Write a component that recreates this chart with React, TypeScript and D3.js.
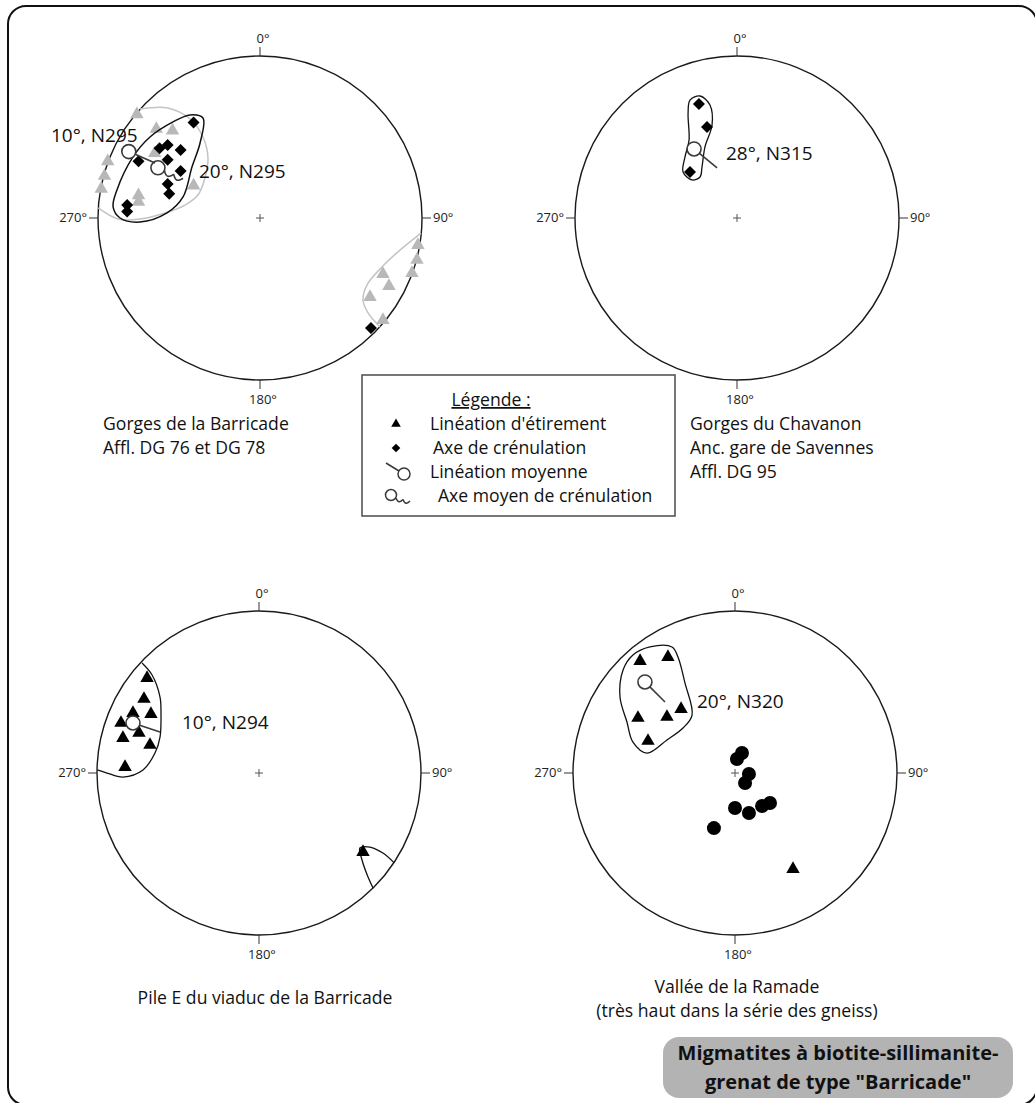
import React from "react";
import * as d3 from "d3";

type P = [number, number];

// ---------- DATA (normalised equal-area coordinates: x = east, y = north, unit primitive) ----------
const tickLabels = ["0°", "90°", "180°", "270°"];

// Net 1 : Gorges de la Barricade
const n1Stretch: P[] = [
  [-0.76, 0.64], [-0.64, 0.55], [-0.54, 0.54], [-0.94, 0.35], [-0.96, 0.26], [-0.98, 0.18],
  [-0.75, 0.14], [-0.75, 0.10], [-0.41, 0.20], [-0.65, 0.40],
  [0.975, -0.167], [0.969, -0.259], [0.938, -0.34], [0.759, -0.346], [0.796, -0.42], [0.679, -0.488], [0.759, -0.63],
];
const n1Crenul: P[] = [
  [-0.41, 0.59], [-0.62, 0.43], [-0.57, 0.45], [-0.49, 0.42], [-0.75, 0.35], [-0.57, 0.36],
  [-0.49, 0.29], [-0.57, 0.21], [-0.56, 0.15], [-0.82, 0.08], [-0.82, 0.04], [0.685, -0.679],
];
const n1BlackZone: P[] = [
  [-0.352, 0.617], [-0.37, 0.463], [-0.42, 0.315], [-0.475, 0.13], [-0.574, 0.031], [-0.741, -0.025],
  [-0.864, 0.0], [-0.907, 0.068], [-0.883, 0.173], [-0.784, 0.377], [-0.679, 0.5], [-0.537, 0.593], [-0.432, 0.636],
];
const n1GreyZoneNW: P[] = [
  [-0.741, 0.673], [-0.568, 0.679], [-0.432, 0.611], [-0.352, 0.5], [-0.321, 0.37], [-0.34, 0.247],
  [-0.383, 0.142], [-0.463, 0.08], [-0.586, 0.031], [-0.741, -0.006], [-0.877, -0.006], [-0.998, 0.062],
];
const n1GreyZoneSE: P[] = [
  [0.994, -0.093], [0.864, -0.198], [0.753, -0.302], [0.66, -0.414], [0.636, -0.506], [0.667, -0.586], [0.74, -0.672],
];
const n1MeanLin: P[] = [[-0.81, 0.41], [-0.648, 0.34]]; // pole, tail end
const n1MeanCren: P[] = [[-0.63, 0.31], [-0.475, 0.245]];
const n1Labels = ["10°, N295", "20°, N295"];
const n1Caption = ["Gorges de la Barricade", "Affl. DG 76 et DG 78"];

// Net 2 : Gorges du Chavanon
const n2Crenul: P[] = [[-0.235, 0.704], [-0.185, 0.562], [-0.29, 0.284]];
const n2Zone: P[] = [
  [-0.29, 0.728], [-0.228, 0.753], [-0.167, 0.698], [-0.154, 0.574], [-0.198, 0.438], [-0.216, 0.315],
  [-0.228, 0.253], [-0.278, 0.235], [-0.333, 0.284], [-0.321, 0.377], [-0.296, 0.481], [-0.302, 0.648],
];
const n2MeanLin: P[] = [[-0.265, 0.426], [-0.123, 0.309]];
const n2Labels = ["28°, N315"];
const n2Caption = ["Gorges du Chavanon", "Anc. gare de Savennes", "Affl. DG 95"];

// Net 3 : Pile E du viaduc de la Barricade
const n3Stretch: P[] = [
  [-0.691, 0.586], [-0.71, 0.457], [-0.778, 0.37], [-0.667, 0.364], [-0.852, 0.309], [-0.741, 0.247],
  [-0.84, 0.216], [-0.673, 0.173], [-0.827, 0.037], [0.642, -0.488],
];
const n3ZoneW: P[] = [
  [-0.722, 0.679], [-0.66, 0.605], [-0.611, 0.469], [-0.605, 0.37], [-0.611, 0.222], [-0.642, 0.123],
  [-0.716, 0.019], [-0.84, -0.025], [-0.938, 0.0], [-0.998, 0.019],
];
const n3ZoneSE: P[] = [
  [0.833, -0.553], [0.765, -0.494], [0.685, -0.457], [0.623, -0.463], [0.636, -0.537], [0.673, -0.642], [0.704, -0.71],
];
const n3MeanLin: P[] = [[-0.778, 0.309], [-0.611, 0.253]];
const n3Labels = ["10°, N294"];
const n3Caption = ["Pile E du viaduc de la Barricade"];

// Net 4 : Vallée de la Ramade
const n4Stretch: P[] = [
  [-0.586, 0.691], [-0.414, 0.716], [-0.599, 0.34], [-0.42, 0.346], [-0.333, 0.395], [-0.537, 0.198], [0.358, -0.593],
];
const n4Poles: P[] = [
  [0.043, 0.123], [0.012, 0.086], [0.086, -0.006], [0.062, -0.062], [0.0, -0.216],
  [0.086, -0.247], [0.167, -0.204], [0.216, -0.185], [-0.13, -0.34],
];
const n4Zone: P[] = [
  [-0.63, 0.728], [-0.525, 0.778], [-0.389, 0.778], [-0.352, 0.716], [-0.309, 0.556], [-0.265, 0.358],
  [-0.321, 0.278], [-0.42, 0.204], [-0.543, 0.123], [-0.63, 0.191], [-0.667, 0.315], [-0.71, 0.469], [-0.691, 0.636],
];
const n4MeanLin: P[] = [[-0.556, 0.562], [-0.432, 0.438]];
const n4Labels = ["20°, N320"];
const n4Caption = ["Vallée de la Ramade", "(très haut dans la série des gneiss)"];

const legendTitle = "Légende :";
const legendItems = ["Linéation d'étirement", "Axe de crénulation", "Linéation moyenne", "Axe moyen de crénulation"];
const boxText = ["Migmatites à biotite-sillimanite-", "grenat de type \"Barricade\""];

// ---------- DRAWING ----------
const FONT = "'Open Sans', 'Noto Sans', sans-serif";
const R = 162;
const LINE = 24;
const triPath = d3.symbol(d3.symbolTriangle, 78)() as string;
const triSmall = d3.symbol(d3.symbolTriangle, 40)() as string;
const sqPath = d3.symbol(d3.symbolSquare, 72)() as string;
const sqSmall = d3.symbol(d3.symbolSquare, 38)() as string;

function wavePath(x0: number, y0: number, x1: number, y1: number, amp = 3, waves = 2) {
  const dx = x1 - x0, dy = y1 - y0;
  const len = Math.hypot(dx, dy);
  const ux = dx / len, uy = dy / len;
  const nx = -uy, ny = ux;
  const pts: [number, number][] = d3.range(0, 41).map((i) => {
    const s = i / 40;
    const off = amp * Math.abs(Math.sin(Math.PI * waves * s));
    return [x0 + ux * len * s + nx * off, y0 + uy * len * s + ny * off];
  });
  return d3.line().curve(d3.curveBasis)(pts) as string;
}

type NetProps = {
  cx: number;
  cy: number;
  render: (x: d3.ScaleLinear<number, number>, y: d3.ScaleLinear<number, number>) => React.ReactNode;
};

function Net({ cx, cy, render }: NetProps) {
  const x = d3.scaleLinear().domain([-1, 1]).range([cx - R, cx + R]);
  const y = d3.scaleLinear().domain([-1, 1]).range([cy + R, cy - R]);
  const tk = 9;
  return (
    <g>
      <circle cx={cx} cy={cy} r={R} fill="none" stroke="#1a1a1a" strokeWidth={1.4} />
      <line x1={cx} y1={cy - R} x2={cx} y2={cy - R - tk} stroke="#333" strokeWidth={1} />
      <line x1={cx + R} y1={cy} x2={cx + R + tk} y2={cy} stroke="#333" strokeWidth={1} />
      <line x1={cx} y1={cy + R} x2={cx} y2={cy + R + tk} stroke="#333" strokeWidth={1} />
      <line x1={cx - R} y1={cy} x2={cx - R - tk} y2={cy} stroke="#333" strokeWidth={1} />
      <g fontFamily={FONT} fontSize={13} fill="#222">
        <text x={cx + 3} y={cy - R - 13} textAnchor="middle">{tickLabels[0]}</text>
        <text x={cx + R + tk + 2} y={cy + 4}>{tickLabels[1]}</text>
        <text x={cx + 3} y={cy + R + 24} textAnchor="middle">{tickLabels[2]}</text>
        <text x={cx - R - tk - 2} y={cy + 4} textAnchor="end">{tickLabels[3]}</text>
      </g>
      <line x1={cx - 4} y1={cy} x2={cx + 4} y2={cy} stroke="#555" strokeWidth={1} />
      <line x1={cx} y1={cy - 4} x2={cx} y2={cy + 4} stroke="#555" strokeWidth={1} />
      {render(x, y)}
    </g>
  );
}

const closed = (x: any, y: any) => d3.line<P>().x((d) => x(d[0])).y((d) => y(d[1])).curve(d3.curveCatmullRomClosed.alpha(0.5));
const open = (x: any, y: any) => d3.line<P>().x((d) => x(d[0])).y((d) => y(d[1])).curve(d3.curveCatmullRom.alpha(0.5));

function Triangles({ data, x, y, fill }: { data: P[]; x: any; y: any; fill: string }) {
  return (
    <g>
      {data.map((d, i) => (
        <path key={i} d={triPath} transform={`translate(${x(d[0])},${y(d[1])})`} fill={fill} />
      ))}
    </g>
  );
}
function Diamonds({ data, x, y }: { data: P[]; x: any; y: any }) {
  return (
    <g>
      {data.map((d, i) => (
        <path key={i} d={sqPath} transform={`translate(${x(d[0])},${y(d[1])}) rotate(45)`} fill="#000" />
      ))}
    </g>
  );
}
function MeanLin({ m, x, y }: { m: P[]; x: any; y: any }) {
  const px = x(m[0][0]), py = y(m[0][1]);
  const tx = x(m[1][0]), ty = y(m[1][1]);
  const a = Math.atan2(ty - py, tx - px);
  const r = 7;
  return (
    <g fill="none" stroke="#3a3a3a" strokeWidth={1.6}>
      <circle cx={px} cy={py} r={r} fill="#fff" />
      <line x1={px + r * Math.cos(a)} y1={py + r * Math.sin(a)} x2={tx} y2={ty} />
    </g>
  );
}
function MeanCren({ m, x, y }: { m: P[]; x: any; y: any }) {
  const px = x(m[0][0]), py = y(m[0][1]);
  const tx = x(m[1][0]), ty = y(m[1][1]);
  const a = Math.atan2(ty - py, tx - px);
  const r = 7;
  return (
    <g fill="none" stroke="#3a3a3a" strokeWidth={1.6}>
      <circle cx={px} cy={py} r={r} fill="none" />
      <path d={wavePath(px + r * Math.cos(a), py + r * Math.sin(a), tx, ty, 4, 2)} />
    </g>
  );
}

export default function App() {
  const labelStyle = { fontFamily: FONT, fontSize: 19, fill: "#111" } as const;
  const textStyle = { fontFamily: FONT, fontSize: 17.6, fill: "#111" } as const;
  return (
    <svg width={1035} height={1103} style={{ position: "absolute", left: 0, top: 0, background: "#fff" }}>
      <rect x={8} y={6} width={1029} height={1099} rx={18} fill="#fff" stroke="#111" strokeWidth={2} />

      {/* Net 1 */}
      <Net
        cx={260}
        cy={218}
        render={(x, y) => (
          <g>
            <path d={open(x, y)(n1GreyZoneNW) as string} fill="none" stroke="#c4c4c4" strokeWidth={1.5} />
            <path d={open(x, y)(n1GreyZoneSE) as string} fill="none" stroke="#c4c4c4" strokeWidth={1.5} />
            <Triangles data={n1Stretch} x={x} y={y} fill="#b8b8b8" />
            <path d={closed(x, y)(n1BlackZone) as string} fill="none" stroke="#111" strokeWidth={1.5} />
            <Diamonds data={n1Crenul} x={x} y={y} />
            <MeanLin m={n1MeanLin} x={x} y={y} />
            <MeanCren m={n1MeanCren} x={x} y={y} />
            <text x={51} y={142} {...labelStyle}>{n1Labels[0]}</text>
            <text x={199} y={178} {...labelStyle}>{n1Labels[1]}</text>
          </g>
        )}
      />
      <g {...textStyle}>
        {n1Caption.map((t, i) => (
          <text key={i} x={103} y={430 + i * LINE}>{t}</text>
        ))}
      </g>

      {/* Net 2 */}
      <Net
        cx={737}
        cy={218}
        render={(x, y) => (
          <g>
            <path d={closed(x, y)(n2Zone) as string} fill="none" stroke="#111" strokeWidth={1.3} />
            <Diamonds data={n2Crenul} x={x} y={y} />
            <MeanLin m={n2MeanLin} x={x} y={y} />
            <text x={726} y={160} {...labelStyle}>{n2Labels[0]}</text>
          </g>
        )}
      />
      <g {...textStyle}>
        {n2Caption.map((t, i) => (
          <text key={i} x={690} y={430 + i * LINE}>{t}</text>
        ))}
      </g>

      {/* Net 3 */}
      <Net
        cx={259}
        cy={773}
        render={(x, y) => (
          <g>
            <path d={open(x, y)(n3ZoneW) as string} fill="none" stroke="#111" strokeWidth={1.3} />
            <path d={open(x, y)(n3ZoneSE) as string} fill="none" stroke="#111" strokeWidth={1.3} />
            <Triangles data={n3Stretch} x={x} y={y} fill="#000" />
            <MeanLin m={n3MeanLin} x={x} y={y} />
            <text x={182} y={729} {...labelStyle}>{n3Labels[0]}</text>
          </g>
        )}
      />
      <g {...textStyle}>
        <text x={265} y={1004} textAnchor="middle">{n3Caption[0]}</text>
      </g>

      {/* Net 4 */}
      <Net
        cx={735}
        cy={773}
        render={(x, y) => (
          <g>
            <path d={closed(x, y)(n4Zone) as string} fill="none" stroke="#111" strokeWidth={1.3} />
            <Triangles data={n4Stretch} x={x} y={y} fill="#000" />
            {n4Poles.map((d, i) => (
              <circle key={i} cx={x(d[0])} cy={y(d[1])} r={7} fill="#000" />
            ))}
            <MeanLin m={n4MeanLin} x={x} y={y} />
            <text x={697} y={708} {...labelStyle}>{n4Labels[0]}</text>
          </g>
        )}
      />
      <g {...textStyle}>
        {n4Caption.map((t, i) => (
          <text key={i} x={737} y={993 + i * LINE} textAnchor="middle">{t}</text>
        ))}
      </g>

      {/* Legend */}
      <rect x={362} y={375} width={313} height={141} fill="#fff" stroke="#555" strokeWidth={1.6} />
      <g {...textStyle}>
        <text x={491} y={406} textAnchor="middle" textDecoration="underline">{legendTitle}</text>
        <text x={430} y={406 + LINE}>{legendItems[0]}</text>
        <text x={433} y={406 + 2 * LINE}>{legendItems[1]}</text>
        <text x={430} y={406 + 3 * LINE}>{legendItems[2]}</text>
        <text x={438} y={406 + 4 * LINE}>{legendItems[3]}</text>
      </g>
      <path d={triSmall} transform="translate(396,424)" fill="#000" />
      <path d={sqSmall} transform="translate(396,448) rotate(45)" fill="#000" />
      <g fill="none" stroke="#3a3a3a" strokeWidth={1.5}>
        <line x1={386} y1={463} x2={399} y2={471} />
        <circle cx={404} cy={474} r={6} />
        <circle cx={391} cy={495} r={5.5} />
        <path d={wavePath(396, 498, 410, 501, 3, 2)} />
      </g>

      {/* Title box */}
      <rect x={663} y={1037} width={350} height={61} rx={16} fill="#b3b3b3" />
      <g fontFamily={FONT} fontSize={20} fontWeight={700} fill="#111" textAnchor="middle">
        <text x={838} y={1060}>{boxText[0]}</text>
        <text x={838} y={1089}>{boxText[1]}</text>
      </g>
    </svg>
  );
}
